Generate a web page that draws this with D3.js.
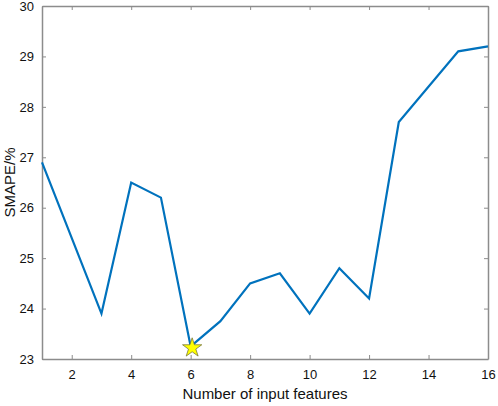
<!DOCTYPE html>
<html>
<head>
<meta charset="utf-8">
<script src="https://cdn.jsdelivr.net/npm/d3@7"></script>
<style>
  body { margin: 0; background: #fff; }
  .tick text { font-family: "Liberation Sans", Arial, sans-serif; font-size: 13px; fill: #111; }
  .label { font-family: "Liberation Sans", Arial, sans-serif; font-size: 15px; fill: #111; }
</style>
</head>
<body>
<div class="svg-container"></div>
<script>
var width = 498;
var height = 406;
var padding = { top: 6, right: 10, bottom: 47, left: 42 };

// data
var features = [1, 3, 4, 5, 6, 7, 8, 9, 10, 11, 12, 13, 15, 16];
var smape = [26.9, 23.9, 26.5, 26.2, 23.25, 23.75, 24.5, 24.7, 23.9, 24.8, 24.2, 27.7, 29.1, 29.2];
var best = { x: 6, y: 23.22 };
var xTicks = [2, 4, 6, 8, 10, 12, 14, 16];
var yTicks = [23, 24, 25, 26, 27, 28, 29, 30];

var innerW = width - padding.left - padding.right;
var innerH = height - padding.top - padding.bottom;

var svg = d3.select(".svg-container")
  .append("svg")
  .attr("width", width)
  .attr("height", height)
  .append("g")
  .attr("transform", "translate(" + padding.left + "," + padding.top + ")");

var scaleX = d3.scaleLinear().domain([1, 16]).range([0, innerW]);
var scaleY = d3.scaleLinear().domain([23, 30]).range([innerH, 0]);

var axisColor = "#8c8c8c";

// axes, matlab style: ticks point inward, box around plot
var xb = svg.append("g")
  .attr("transform", "translate(0," + innerH + ")")
  .call(d3.axisBottom(scaleX).tickValues(xTicks).tickSizeInner(-4).tickSizeOuter(0).tickPadding(11).tickFormat(d3.format("d")));
var xt = svg.append("g")
  .call(d3.axisTop(scaleX).tickValues(xTicks).tickSizeInner(-4).tickSizeOuter(0).tickFormat(""));
var yl = svg.append("g")
  .call(d3.axisLeft(scaleY).tickValues(yTicks).tickSizeInner(-4).tickSizeOuter(0).tickPadding(8).tickFormat(d3.format("d")));
var yr = svg.append("g")
  .attr("transform", "translate(" + innerW + ",0)")
  .call(d3.axisRight(scaleY).tickValues(yTicks).tickSizeInner(-4).tickSizeOuter(0).tickFormat(""));

[xb, xt, yl, yr].forEach(function(g) {
  g.selectAll(".domain").attr("stroke", axisColor).attr("stroke-width", 1.5);
  g.selectAll(".tick line").attr("stroke", axisColor);
});

// line
var valueline = d3.line()
  .x(function(d, i) { return scaleX(features[i]); })
  .y(function(d) { return scaleY(d); });

svg.append("path")
  .datum(smape)
  .attr("fill", "none")
  .attr("stroke", "#0072BD")
  .attr("stroke-width", 2.2)
  .attr("stroke-linejoin", "miter")
  .attr("d", valueline);

// star marker on the minimum
svg.append("path")
  .attr("d", d3.symbol().type(d3.symbolStar).size(115)())
  .attr("transform", "translate(" + (scaleX(best.x) + 1.5) + "," + scaleY(best.y) + ")")
  .attr("fill", "#FFFF00")
  .attr("stroke", "#7a7a3a")
  .attr("stroke-width", 0.8);

// labels
svg.append("text")
  .attr("class", "label")
  .attr("x", innerW / 2)
  .attr("y", innerH + 40)
  .attr("text-anchor", "middle")
  .text("Number of input features");

svg.append("text")
  .attr("class", "label")
  .attr("transform", "rotate(-90)")
  .attr("x", -innerH / 2)
  .attr("y", -27)
  .attr("text-anchor", "middle")
  .text("SMAPE/%");
</script>
</body>
</html>
